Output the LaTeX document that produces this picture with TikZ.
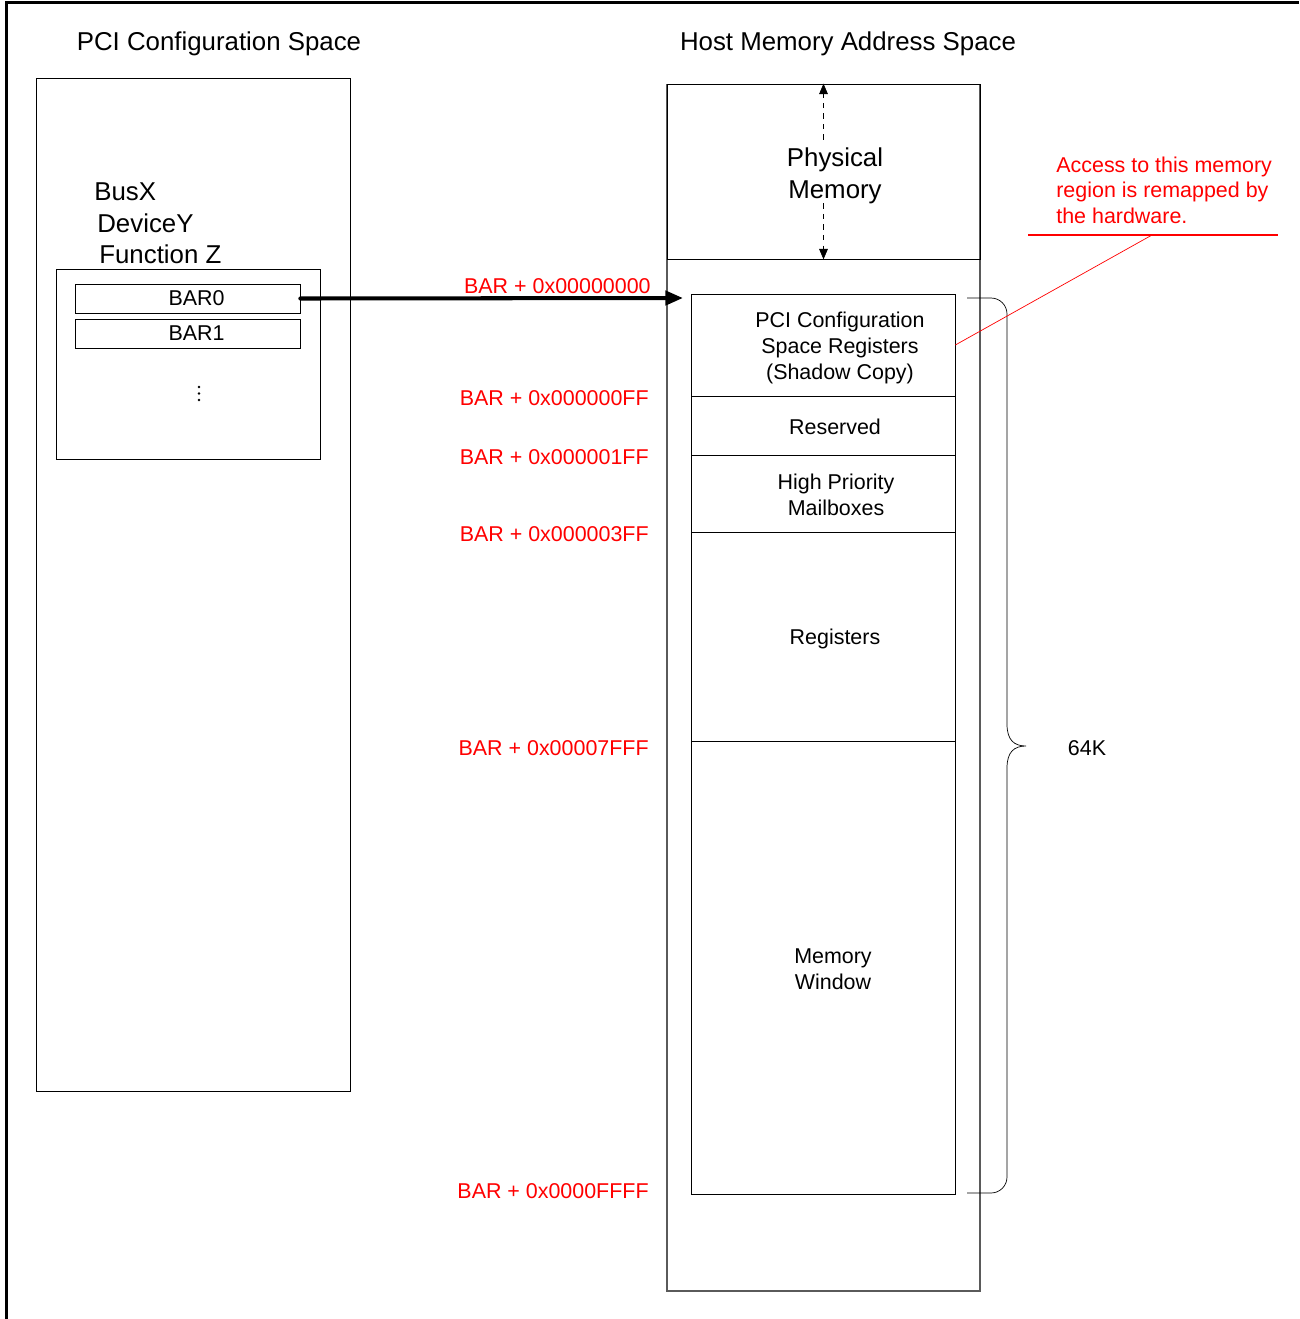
\documentclass[tikz,border=0pt]{standalone}
\usepackage{fontspec}
\setmainfont{Liberation Sans}
\usetikzlibrary{arrows.meta,positioning,calc}
\definecolor{notered}{RGB}{255,0,0}
\definecolor{edgegray}{RGB}{90,90,90}
\newcommand{\bigtext}{\fontsize{14.7pt}{18pt}\selectfont}
\newcommand{\smalltext}{\fontsize{12.2pt}{14.6pt}\selectfont}

\begin{document}
\begin{tikzpicture}[x=0.02cm,y=-0.02cm,>=Latex,
  every node/.style={font=\smalltext,align=center},
  spacebox/.style={draw,inner sep=0pt},
  regionbox/.style={draw,minimum width=5.28cm,inner sep=0pt},
  barbox/.style={draw,minimum width=4.5cm,minimum height=0.58cm,inner sep=0pt},
  addr/.style={anchor=east,inner sep=0pt,text=notered},
  devline/.style={font=\bigtext,anchor=west,inner sep=0pt}]
  \useasboundingbox (0,0) rectangle (1299,1319);
  \draw[line width=1.7pt] (6.5,1319) -- (6.5,2.5) -- (1299,2.5);

  % left side: config space of the device
  \node[font=\bigtext] (cfgtitle) at (219,44) {PCI Configuration Space};
  \node[spacebox,minimum width=6.28cm,minimum height=20.26cm] (cfg) at (193,584.5) {};
  \node[devline] (bus) at (94,192) {BusX};
  \node[devline] (dev) at (97,223) {DeviceY};
  \node[devline] (func) at (99,254) {Function Z};
  \node[spacebox,minimum width=5.28cm,minimum height=3.8cm] (bars) at (188,364) {};
  \node[barbox] (bar0) at (187.5,298.5) {\hspace*{0.36cm}BAR0};
  \node[barbox] (bar1) at (187.5,333.5) {\hspace*{0.36cm}BAR1};
  \foreach \y in {387,393.5,400}
    \fill (199,\y) circle (1.3);

  % right side: host memory
  \node[font=\bigtext] (hosttitle) at (848,44) {Host Memory Address Space};
  \node[spacebox,draw=edgegray,line width=0.7pt,minimum width=6.26cm,minimum height=24.14cm] (host) at (823.5,687.5) {};
  \node[spacebox,minimum width=6.26cm,minimum height=3.5cm] (phys) at (823.5,171.5) {};
  \node[font=\bigtext,align=center] (physlbl) at (835,176) {Physical\\Memory};
  \draw[dashed,-{Triangle[length=6pt,width=5pt]}] ($(phys.north)+(0,56)$) -- (phys.north);
  \draw[dashed,-{Triangle[length=6pt,width=5pt]}] ($(phys.south)+(0,-56)$) -- (phys.south);

  \node[regionbox,minimum height=2.04cm] (shadow) at (823,345) {};
  \node[regionbox,minimum height=1.18cm] (rsvd) at (823,425.5) {};
  \node[regionbox,minimum height=1.54cm] (mbox) at (823,493.5) {};
  \node[regionbox,minimum height=4.18cm] (regs) at (823,636.5) {};
  \node[regionbox,minimum height=9.06cm] (win) at (823,967.5) {};
  \node at ($(shadow.center)+(17,3)$) {PCI Configuration\\Space Registers\\(Shadow Copy)};
  \node at ($(rsvd.center)+(12,1)$) {Reserved};
  \node at ($(mbox.center)+(13,1.5)$) {High Priority\\Mailboxes};
  \node at ($(regs.center)+(12,2)$) {Registers};
  \node at ($(win.center)+(10,1.5)$) {Memory\\Window};

  % offsets from BAR
  \node[addr] (a0) at (651,286) {BAR + 0x00000000};
  \node[addr] (a1) at (649,398) {BAR + 0x000000FF};
  \node[addr] (a2) at (649,457) {BAR + 0x000001FF};
  \node[addr] (a3) at (649,534) {BAR + 0x000003FF};
  \node[addr] (a4) at (649,748) {BAR + 0x00007FFF};
  \node[addr] (a5) at (649,1191) {BAR + 0x0000FFFF};

  \coordinate (hit) at (683,298);
  \draw[line width=2.3pt,line cap=round,-{Triangle[length=10pt,width=8pt]}] (bar0.east) -- (hit);

  % 64K brace
  \draw (967,298) -- (991,298) arc[start angle=90,end angle=0,radius=0.32cm]
    -- (1007,724) .. controls (1007,740) and (1014,746) .. (1026,746)
    .. controls (1014,746) and (1007,752) .. (1007,768)
    -- (1007,1177) arc[start angle=0,end angle=-90,radius=0.32cm] -- (967,1193);
  \node (size) at (1087,748) {64K};

  % note
  \node[anchor=west,inner sep=0pt,text=notered,align=left] (note) at (1056,190) {Access to this memory\\region is remapped by\\the hardware.};
  \coordinate (noteleft) at (1028,235);
  \coordinate (noteright) at (1278,235);
  \coordinate (notefoot) at (1152,235);
  \draw[notered,line width=0.6pt] (noteleft) -- (noteright);
  \draw[notered] (notefoot) -- (shadow.east);
\end{tikzpicture}
\end{document}
